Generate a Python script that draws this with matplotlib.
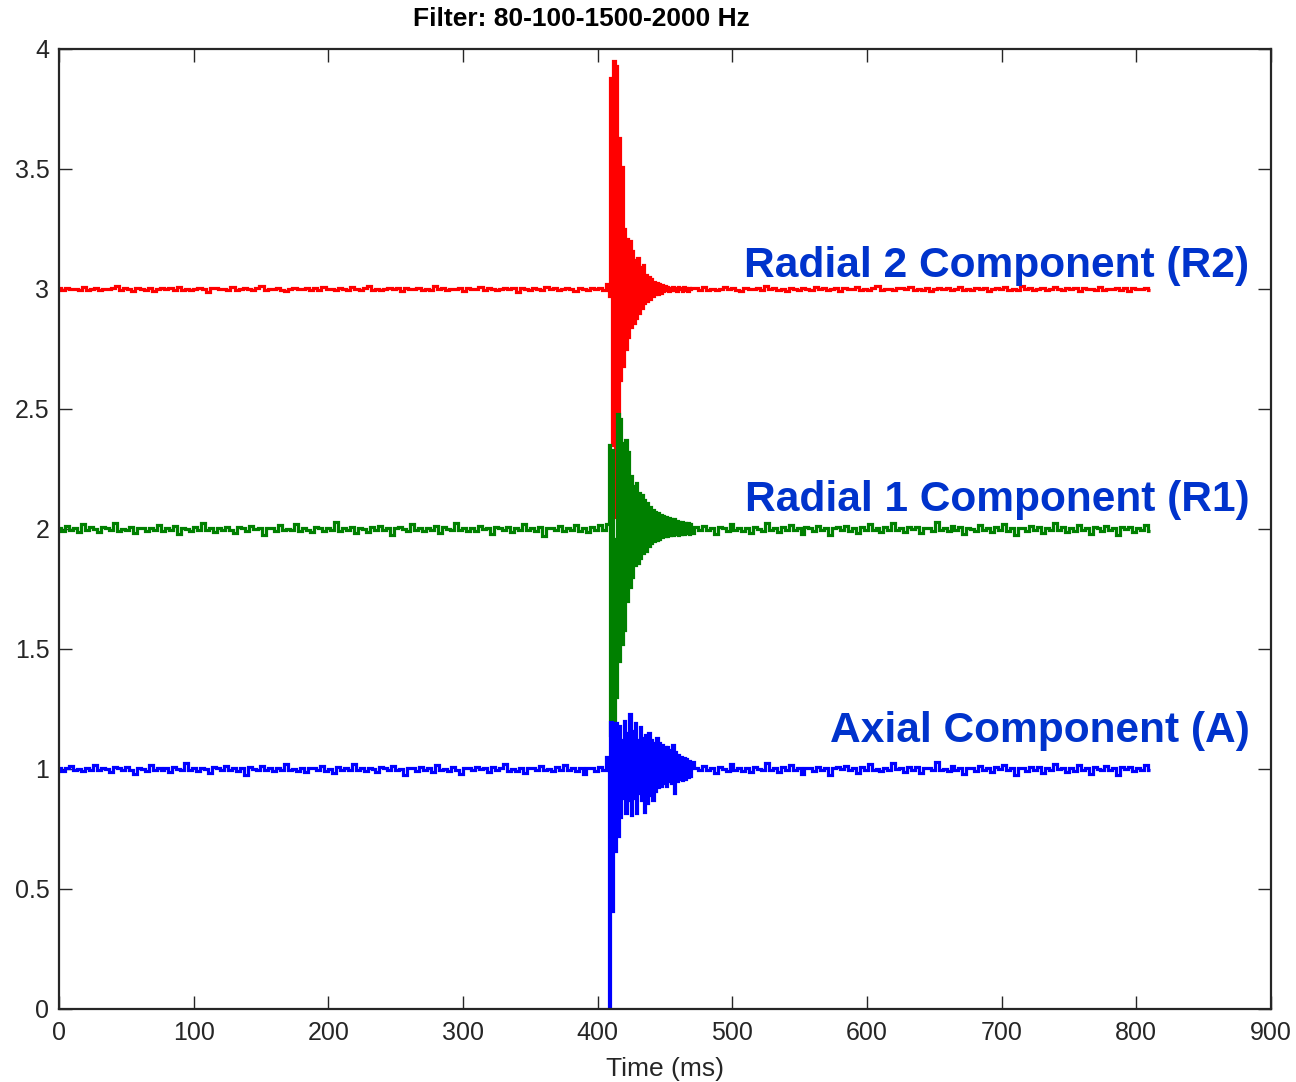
import numpy as np
import matplotlib
matplotlib.use("Agg")
import matplotlib.pyplot as plt

# ---------------- data ----------------
title = "Filter: 80-100-1500-2000 Hz"
xlabel = "Time (ms)"
xticks = [0, 100, 200, 300, 400, 500, 600, 700, 800, 900]
yticks = [0, 0.5, 1, 1.5, 2, 2.5, 3, 3.5, 4]
ytick_labels = ["0", "0.5", "1", "1.5", "2", "2.5", "3", "3.5", "4"]

baselines = {"R2": 3.0, "R1": 2.0, "A": 1.0}
labels = {"R2": "Radial 2 Component (R2)", "R1": "Radial 1 Component (R1)", "A": "Axial Component (A)"}
label_y = {"R2": 3.094, "R1": 2.122, "A": 1.16}
label_x = 884
colors = {"R2": "#ff0000", "R1": "#008000", "A": "#0000ff"}

pre_span = (0, 405)      # ms, noise before the event (3 ms samples)
burst_start = 408        # ms, event samples every 1 ms
post_span = (473, 810)   # ms, noise after the event

# deviations from baseline, in thousandths
R2_pre = [3,-4,6,-2,1,-5,8,-3,2,4,-6,1,-2,5,12,-4,3,-1,-7,4,2,-3,6,-9,1,3,-2,5,-4,10,-3,2,-5,1,4,-2,-11,3,5,-1,2,-6,7,-3,1,4,-2,-5,3,13,-4,2,-1,6,-3,-8,2,4,-2,1,5,-4,3,-6,9,-2,1,-3,4,2,-5,7,-1,-4,3,14,-3,2,-6,1,4,-2,5,-9,3,-1,2,6,-4,1,-3,11,-2,4,-5,2,-1,3,-7,5,-2,1,8,-4,3,-2,-6,2,4,-1,5,-12,3,2,-4,6,-1,-3,9,-2,4,-5,1,3,-2,-8,5,2,-3,6,-1,4,-4]
R2_burst = [20,-30,880,-650,950,-950,930,-550,630,-380,510,-320,250,-250,210,-200,200,-160,160,-140,120,-120,130,-100,90,-80,100,-60,60,-50,50,-40,40,-30,30,-20,25,-20,20,-15,15,-10,12,-6,8,-9,5,-4,10,-6,3,-8,7,-2,6,-9,8,-3,4,-7,6,-2,5]
R2_post = [4,-3,7,-5,2,-6,1,9,-2,3,-4,-8,5,2,-1,6,-3,11,-2,4,-5,1,-7,3,2,-4,6,-1,-3,10,-2,5,-6,1,3,-9,4,-2,2,7,-4,1,-5,3,12,-3,2,-1,-6,5,3,-2,8,-4,1,-3,4,-10,2,6,-1,3,-5,2,9,-3,1,-6,4,-2,5,-8,2,3,-1,7,-4,2,-3,13,-2,4,-6,1,3,-5,2,8,-1,-4,5,-2,3,-7,6,-1,2,-3,10,-4,1,-2,5,-6,3,-9,4,2,-1,6,-3]

R1_pre = [6,-9,12,-4,3,-11,20,-5,7,-2,-14,8,4,-6,24,-8,2,-5,9,-16,6,3,-10,5,-4,18,-7,4,-3,11,-22,6,2,-8,7,-5,27,-6,3,-12,5,-4,10,-3,-18,8,4,-7,12,-2,6,-26,5,3,-9,15,-4,2,-6,21,-8,5,-3,-13,7,4,-10,6,-5,30,-7,3,-4,9,-17,6,2,-11,8,-3,14,-6,4,-23,5,7,-2,-9,19,-5,3,-8,6,-4,11,-15,7,2,-6,25,-3,5,-10,4,-7,13,-2,6,-20,8,3,-5,10,-12,4,-3,22,-6,5,-8,7,-28,4,6,-4,12,-9,3,-5,17,-7,5,-11,8,-3,16,-6]
R1_burst = [20,350,-860,330,-800,-40,-700,480,-550,460,-480,360,-420,370,-300,320,-240,220,-200,180,-150,190,-140,150,-120,140,-100,120,-90,110,-70,90,-60,80,-50,70,-45,65,-40,60,-35,55,-30,50,-30,45,-25,40,-25,40,-20,35,-25,28,-22,30,-20,25,-18,24,-22,20,-18]
R1_post = [8,-6,14,-4,5,-19,7,3,-10,22,-5,6,-8,4,-15,9,2,-7,26,-4,5,-12,8,-3,17,-6,4,-21,7,3,-9,11,-5,6,-27,4,8,-3,13,-7,5,-16,9,-4,20,-6,3,-11,7,-5,24,-3,6,-14,8,-2,10,-18,5,4,-7,29,-6,3,-9,12,-4,7,-22,5,2,-8,15,-5,6,-13,9,-3,19,-7,4,-25,6,3,-10,11,-4,8,-17,5,-6,23,-3,7,-12,4,-8,16,-5,6,-20,9,3,-7,13,-4,5,-24,8,-2,10,-11,6,-5,18,-7]

A_pre = [5,-7,3,12,-4,2,-9,6,-3,18,-5,4,-2,-13,7,3,-6,10,-4,-20,5,2,-7,15,-3,6,-5,4,-11,8,2,-4,23,-6,3,-8,5,-2,-16,9,4,-5,12,-3,6,-9,3,-24,7,2,-6,14,-4,5,-10,4,-3,19,-6,2,-8,6,-12,3,5,-4,11,-7,2,-17,8,-3,4,-6,21,-5,3,-9,6,-2,-14,7,4,-5,13,-3,2,-26,6,5,-7,9,-4,3,-11,16,-5,2,-8,7,-3,-19,4,6,-6,10,-2,5,-13,8,-4,3,22,-7,2,-9,5,-15,6,4,-3,12,-6,2,-10,7,-4,17,-5,3,-8,6,-21,4,5,-7,9,-3]
A_burst = [50,-1000,196,-590,190,-340,190,-280,180,-200,120,-120,200,-185,150,-130,230,-190,160,-120,190,-185,120,-100,175,-130,130,-180,140,-140,150,-110,120,-130,110,-90,130,-75,110,-70,100,-60,90,-70,90,-50,80,-60,100,-100,70,-50,60,-40,50,-45,45,-40,40,-35,35,-30,30]
A_post = [6,-5,13,-4,3,-18,7,2,-9,21,-6,4,-7,3,-14,8,2,-5,25,-4,6,-11,7,-3,16,-5,3,-20,6,4,-8,10,-4,5,-27,3,7,-2,12,-6,4,-15,8,-3,19,-5,2,-10,6,-4,23,-2,5,-13,7,-3,9,-17,4,3,-6,28,-5,2,-8,11,-4,6,-21,5,3,-7,14,-4,5,-12,8,-2,18,-6,3,-24,5,4,-9,10,-3,7,-16,4,-5,22,-2,6,-11,3,-7,15,-4,5,-19,8,2,-6,12,-3,4,-23,7,-2,9,-10,5,-4,17,-6]

traces = {
    "R2": (R2_pre, R2_burst, R2_post),
    "R1": (R1_pre, R1_burst, R1_post),
    "A": (A_pre, A_burst, A_post),
}

FONT = ["Liberation Sans", "Arial", "DejaVu Sans"]

# ---------------- figure ----------------
W, H = 1296, 1082
fig = plt.figure(figsize=(W / 100, H / 100), dpi=100)
ax = fig.add_axes([59 / W, 1 - 1009 / H, (1271 - 59) / W, (1009 - 49) / H])

for key in ["R2", "R1", "A"]:
    pre, burst, post = traces[key]
    t = np.concatenate([
        np.linspace(pre_span[0], pre_span[1], len(pre)),
        burst_start + np.arange(len(burst)),
        np.linspace(post_span[0], post_span[1], len(post)),
    ])
    v = baselines[key] + np.array(pre + burst + post, dtype=float) / 1000.0
    ax.plot(t, v, color=colors[key], lw=2.3, drawstyle="steps-mid",
            solid_joinstyle="miter", solid_capstyle="butt")

for key in ["R2", "R1", "A"]:
    ax.text(label_x, label_y[key], labels[key], ha="right", va="center",
            color="#0033cc", fontsize=30.6, fontweight="bold", family=FONT)

ax.set_xlim(0, 900)
ax.set_ylim(0, 4)
ax.set_xticks(xticks)
ax.set_yticks(yticks)
ax.set_yticklabels(ytick_labels)
ax.tick_params(direction="in", length=9.5, width=1.0, top=True, right=True,
               labelsize=18, colors="#262626")
ax.tick_params(axis="x", pad=9)
ax.tick_params(axis="y", pad=7)
for lab in ax.get_xticklabels() + ax.get_yticklabels():
    lab.set_family(FONT)
for s in ax.spines.values():
    s.set_linewidth(1.6)
    s.set_color("#262626")

ax.set_xlabel(xlabel, fontsize=19, family=FONT, color="#262626", labelpad=8)
fig.text(581 / W, 1 - 19 / H, title, ha="center", va="center",
         fontsize=19, fontweight="bold", family=FONT, color="black")

fig.savefig("out.png", dpi=100)
